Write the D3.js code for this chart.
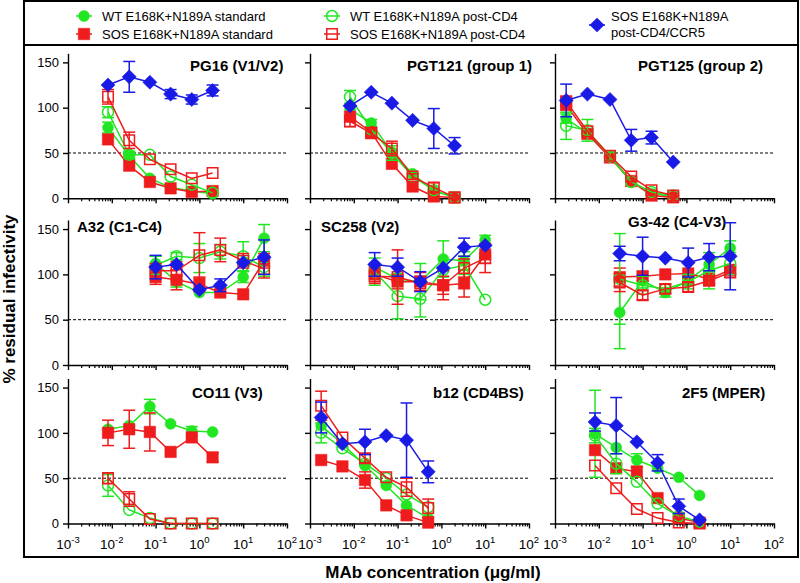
<!DOCTYPE html>
<html>
<head>
<meta charset="utf-8">
<script src="https://cdn.jsdelivr.net/npm/d3@7"></script>
<style>
  body { margin: 0; background: #fff; }
  svg { display: block; font-family: Arial, "Liberation Sans", sans-serif; }
</style>
</head>
<body>
<svg id="chart" width="800" height="583"></svg>
<script>
// concentrations (ug/ml), 3-fold dilutions
const concA = [0.0082, 0.025, 0.074, 0.22, 0.67, 2]
const concB = [0.0018, 0.0055, 0.018, 0.055, 0.16, 0.5]
const concC = [0.1, 0.3, 1, 3, 10, 30]
const concD = [0.03, 0.1, 0.33, 1.1, 3.3, 10]

const seriesNames = [
  'WT E168K+N189A standard',
  'SOS E168K+N189A standard',
  'WT E168K+N189A post-CD4',
  'SOS E168K+N189A post-CD4',
  'SOS E168K+N189A post-CD4/CCR5'
]
const panelTitles = ['PG16 (V1/V2)', 'PGT121 (group 1)', 'PGT125 (group 2)',
  'A32 (C1-C4)', 'SC258 (V2)', 'G3-42 (C4-V3)',
  'CO11 (V3)', 'b12 (CD4BS)', '2F5 (MPER)']
const xExponents = ['-3', '-2', '-1', '0', '1', '2']
const yTicks = [0, 50, 100, 150]

// rows: WT std, SOS std, WT post-CD4, SOS post-CD4, SOS post-CD4/CCR5
const pg16Mean = [
  [78, 47, 22, 12, 8, 5],
  [65, 36, 18, 11, 7, 8],
  [95, 48, 48, 24, 15, 6],
  [112, 64, 43, 32, 22, 28],
  [125, 134, 128, 115, 109, 119]]
const pg16Err = [
  [6, 4, 0, 0, 0, 0],
  [0, 0, 0, 0, 0, 0],
  [6, 4, 0, 0, 0, 0],
  [8, 9, 0, 0, 0, 0],
  [0, 17, 0, 5, 5, 6]]

const pgt121Mean = [
  [98, 83, 51, 27, 8, 1],
  [90, 73, 38, 13, 2, 1],
  [112, 76, 50, 24, 9, 1],
  [85, 72, 55, 24, 12, 1],
  [102, 117, 105, 86, 77, 58]]
const pgt121Err = [
  [0, 4, 0, 0, 0, 0],
  [0, 0, 0, 0, 0, 0],
  [7, 0, 8, 0, 0, 0],
  [6, 6, 8, 3, 5, 0],
  [0, 0, 0, 0, 22, 9]]

const pgt125Mean = [
  [88, 72, 46, 19, 5, 2],
  [103, 71, 45, 19, 3, 1],
  [80, 75, 46, 18, 7, 3],
  [107, 74, 47, 24, 9, 3],
  [108, 115, 109, 64, 67, 40]]
const pgt125Err = [
  [5, 0, 0, 0, 0, 0],
  [5, 0, 0, 0, 0, 0],
  [15, 12, 5, 0, 0, 0],
  [5, 0, 0, 0, 0, 0],
  [18, 0, 0, 12, 7, 0]]

const a32Mean = [
  [112, 92, 80, 80, 97, 140],
  [97, 94, 89, 80, 78, 115],
  [110, 120, 118, 125, 120, 108],
  [104, 104, 121, 127, 115, 106],
  [108, 111, 83, 88, 113, 119]]
const a32Err = [
  [8, 6, 0, 0, 6, 15],
  [8, 11, 8, 0, 0, 8],
  [10, 4, 16, 8, 16, 10],
  [8, 10, 25, 13, 8, 10],
  [13, 0, 0, 7, 0, 19]]

const sc258Mean = [
  [108, 95, 92, 117, 115, 138],
  [100, 92, 92, 88, 90, 122],
  [103, 76, 73, 105, 110, 72],
  [98, 97, 90, 88, 107, 118],
  [111, 108, 92, 107, 130, 132]]
const sc258Err = [
  [0, 0, 20, 20, 10, 5],
  [8, 8, 10, 10, 15, 10],
  [15, 25, 20, 0, 10, 0],
  [8, 30, 8, 16, 10, 16],
  [13, 10, 11, 0, 10, 0]]

const g342Mean = [
  [58, 93, 80, 93, 111, 129],
  [97, 98, 100, 101, 95, 105],
  [95, 88, 84, 92, 104, 112],
  [91, 77, 84, 86, 93, 102],
  [123, 120, 118, 113, 119, 120]]
const g342Err = [
  [40, 8, 5, 5, 8, 8],
  [10, 5, 0, 0, 6, 5],
  [50, 10, 5, 8, 20, 12],
  [10, 5, 5, 5, 5, 5],
  [8, 21, 0, 16, 15, 37]]

const co11Mean = [
  [104, 108, 129, 110, 102, 101],
  [100, 104, 101, 79, 95, 73],
  [42, 15, 6, 0, 0, 0],
  [50, 27, 5, 0, 0, 0],
  null]
const co11Err = [
  [0, 0, 8, 0, 5, 0],
  [14, 21, 21, 0, 0, 5],
  [12, 0, 0, 0, 0, 0],
  [6, 8, 0, 0, 0, 0],
  null]

const b12Mean = [
  [108, 88, 64, 42, 20, 6],
  [70, 63, 48, 20, 9, 1],
  [100, 83, 66, 50, 32, 18],
  [130, 95, 72, 51, 40, 17],
  [117, 88, 90, 97, 92, 57]]
const b12Err = [
  [0, 0, 0, 0, 0, 0],
  [0, 0, 9, 0, 0, 0],
  [11, 0, 0, 0, 0, 0],
  [16, 0, 5, 0, 10, 10],
  [17, 0, 14, 0, 41, 12]]

const f2f5Mean = [
  [99, 84, 70, 61, 51, 31],
  [81, 61, 57, 28, 6, 1],
  [97, 66, 46, 22, 8, 2],
  [64, 39, 16, 6, 1, 0],
  [112, 108, 90, 67, 19, 4]]
const f2f5Err = [
  [48, 0, 7, 0, 0, 0],
  [0, 0, 6, 0, 0, 0],
  [8, 11, 0, 0, 0, 0],
  [0, 0, 0, 0, 0, 0],
  [10, 31, 0, 9, 8, 0]]

const panels = [
  { conc: concA, mean: pg16Mean, err: pg16Err },
  { conc: concA, mean: pgt121Mean, err: pgt121Err },
  { conc: concB, mean: pgt125Mean, err: pgt125Err },
  { conc: concC, mean: a32Mean, err: a32Err },
  { conc: concD, mean: sc258Mean, err: sc258Err },
  { conc: concD, mean: g342Mean, err: g342Err },
  { conc: concA, mean: co11Mean, err: co11Err },
  { conc: concB, mean: b12Mean, err: b12Err },
  { conc: concA, mean: f2f5Mean, err: f2f5Err }
]

// layout
const colX = [68, 310, 555], panelW = 219
const rowBase = [198.3, 365, 523.5], panelH = 145
const titlePos = [[190, 71], [407, 71], [638, 71], [77, 232], [321, 232], [628, 227],
  [192, 398], [433, 398], [682, 398]]

const green = '#22e622', red = '#ee1c1c', blue = '#1a1ae6'
const style = [
  { color: green, shape: d3.symbolCircle, size: 95, fill: true },
  { color: red, shape: d3.symbolSquare, size: 132, fill: true },
  { color: green, shape: d3.symbolCircle, size: 95, fill: false },
  { color: red, shape: d3.symbolSquare, size: 110, fill: false },
  { color: blue, shape: d3.symbolSquare, size: 100, fill: true, rot: 45 }
]

const svg = d3.select('#chart')

const marker = (sel, s) => {
  sel.append('path')
    .attr('d', d3.symbol().type(s.shape).size(s.size))
    .attr('fill', s.fill ? s.color : 'none')
    .attr('stroke', s.color)
    .attr('stroke-width', s.fill ? 0.5 : 1.5)
    .attr('transform', s.rot ? 'rotate(' + s.rot + ')' : null)
}

// boxes
svg.append('rect').attr('x', 24).attr('y', 1).attr('width', 774).attr('height', 44)
  .attr('fill', 'none').attr('stroke', '#000').attr('stroke-width', 2)
svg.append('rect').attr('x', 24).attr('y', 45).attr('width', 774).attr('height', 512)
  .attr('fill', 'none').attr('stroke', '#000').attr('stroke-width', 2)

// legend
const legendPos = [[84, 16], [84, 34], [332, 16], [332, 34], [597, 25]]
const legendText = [[seriesNames[0]], [seriesNames[1]], [seriesNames[2]], [seriesNames[3]],
  ['SOS E168K+N189A', 'post-CD4/CCR5']]
legendPos.forEach((p, i) => {
  const lg = svg.append('g').attr('transform', 'translate(' + p[0] + ',' + p[1] + ')')
  lg.append('line').attr('x1', -8).attr('x2', 8)
    .attr('stroke', style[i].color).attr('stroke-width', 1.5)
  marker(lg, style[i])
  const t = lg.append('text').attr('x', i === 4 ? 14 : 18).attr('y', 0)
    .attr('font-size', 13).attr('fill', '#000')
  if (legendText[i].length === 1) {
    t.attr('dy', '0.35em').text(legendText[i][0])
  } else {
    t.append('tspan').attr('x', 14).attr('dy', '-0.3em').text(legendText[i][0])
    t.append('tspan').attr('x', 14).attr('dy', '1.2em').text(legendText[i][1])
  }
})

panels.forEach((p, k) => {
  const row = Math.floor(k / 3), col = k % 3
  const x0 = colX[col], base = rowBase[row]
  const x = d3.scaleLog().domain([1e-3, 1e2]).range([x0, x0 + panelW])
  const y = d3.scaleLinear().domain([0, 160]).range([base, base - panelH])
  const g = svg.append('g')

  // y axis
  const ya = g.append('g')
    .attr('transform', 'translate(' + x0 + ',0)')
    .call(d3.axisLeft(y).tickValues(yTicks).tickSize(5).tickSizeOuter(0)
      .tickFormat(col === 0 ? d3.format('d') : () => ''))
  ya.select('.domain').attr('stroke-width', 1.4)
  ya.selectAll('.tick line').attr('stroke-width', 1.4)
  ya.selectAll('.tick text').attr('font-size', 13).attr('font-family', 'Arial, Liberation Sans').attr('dx', '-1')

  // x axis: minor then major ticks
  const minor = []
  for (let e = -3; e < 2; e++) for (let m = 2; m < 10; m++) minor.push(m * Math.pow(10, e))
  const major = d3.range(-3, 3).map(e => Math.pow(10, e))
  const xm = g.append('g').attr('transform', 'translate(0,' + base + ')')
    .call(d3.axisBottom(x).tickValues(minor).tickSize(3).tickSizeOuter(0).tickFormat(() => ''))
  xm.select('.domain').remove()
  xm.selectAll('.tick line').attr('stroke-width', 1.2)
  const xa = g.append('g').attr('transform', 'translate(0,' + base + ')')
    .call(d3.axisBottom(x).tickValues(major).tickSize(5).tickSizeOuter(0).tickFormat(() => ''))
  xa.select('.domain').attr('stroke-width', 1.4)
  xa.selectAll('.tick line').attr('stroke-width', 1.4)
  if (row === 2) {
    major.forEach((v, i) => {
      const t = g.append('text').attr('x', x(v)).attr('y', base + 25)
        .attr('text-anchor', 'middle').attr('font-size', 13.5)
      t.append('tspan').text('10')
      t.append('tspan').attr('font-size', 9.5).attr('dy', -6).text(xExponents[i])
    })
  }

  // 50% line
  g.append('line').attr('x1', x0).attr('x2', x0 + panelW)
    .attr('y1', y(50)).attr('y2', y(50))
    .attr('stroke', '#000').attr('stroke-width', 1).attr('stroke-dasharray', '3,2')

  // title
  g.append('text').attr('x', titlePos[k][0]).attr('y', titlePos[k][1])
    .attr('font-size', 15).attr('font-weight', 'bold').text(panelTitles[k])

  // series
  p.mean.forEach((vals, s) => {
    if (!vals) return
    const st = style[s]
    const pts = vals.map((v, i) => ({ c: p.conc[i], v: v, e: p.err[s][i] }))
    const sg = g.append('g')
    sg.append('path').datum(pts)
      .attr('d', d3.line().x(d => x(d.c)).y(d => y(d.v)))
      .attr('fill', 'none').attr('stroke', st.color).attr('stroke-width', 1.5)
    const eb = sg.selectAll('.eb').data(pts.filter(d => d.e > 0)).enter().append('g')
      .attr('stroke', st.color).attr('stroke-width', 1.5)
    eb.append('line').attr('x1', d => x(d.c)).attr('x2', d => x(d.c))
      .attr('y1', d => y(d.v - d.e)).attr('y2', d => y(d.v + d.e))
    eb.append('line').attr('x1', d => x(d.c) - 6).attr('x2', d => x(d.c) + 6)
      .attr('y1', d => y(d.v + d.e)).attr('y2', d => y(d.v + d.e))
    eb.append('line').attr('x1', d => x(d.c) - 6).attr('x2', d => x(d.c) + 6)
      .attr('y1', d => y(d.v - d.e)).attr('y2', d => y(d.v - d.e))
    pts.forEach(d => {
      const mg = sg.append('g').attr('transform', 'translate(' + x(d.c) + ',' + y(d.v) + ')')
      marker(mg, st)
    })
  })
})

// axis titles
svg.append('text')
  .attr('transform', 'translate(15,299) rotate(-90)')
  .attr('text-anchor', 'middle').attr('font-size', 17).attr('font-weight', 'bold')
  .text('% residual infectivity')
svg.append('text')
  .attr('x', 433).attr('y', 578)
  .attr('text-anchor', 'middle').attr('font-size', 17).attr('font-weight', 'bold')
  .text('MAb concentration (μg/ml)')
</script>
</body>
</html>
